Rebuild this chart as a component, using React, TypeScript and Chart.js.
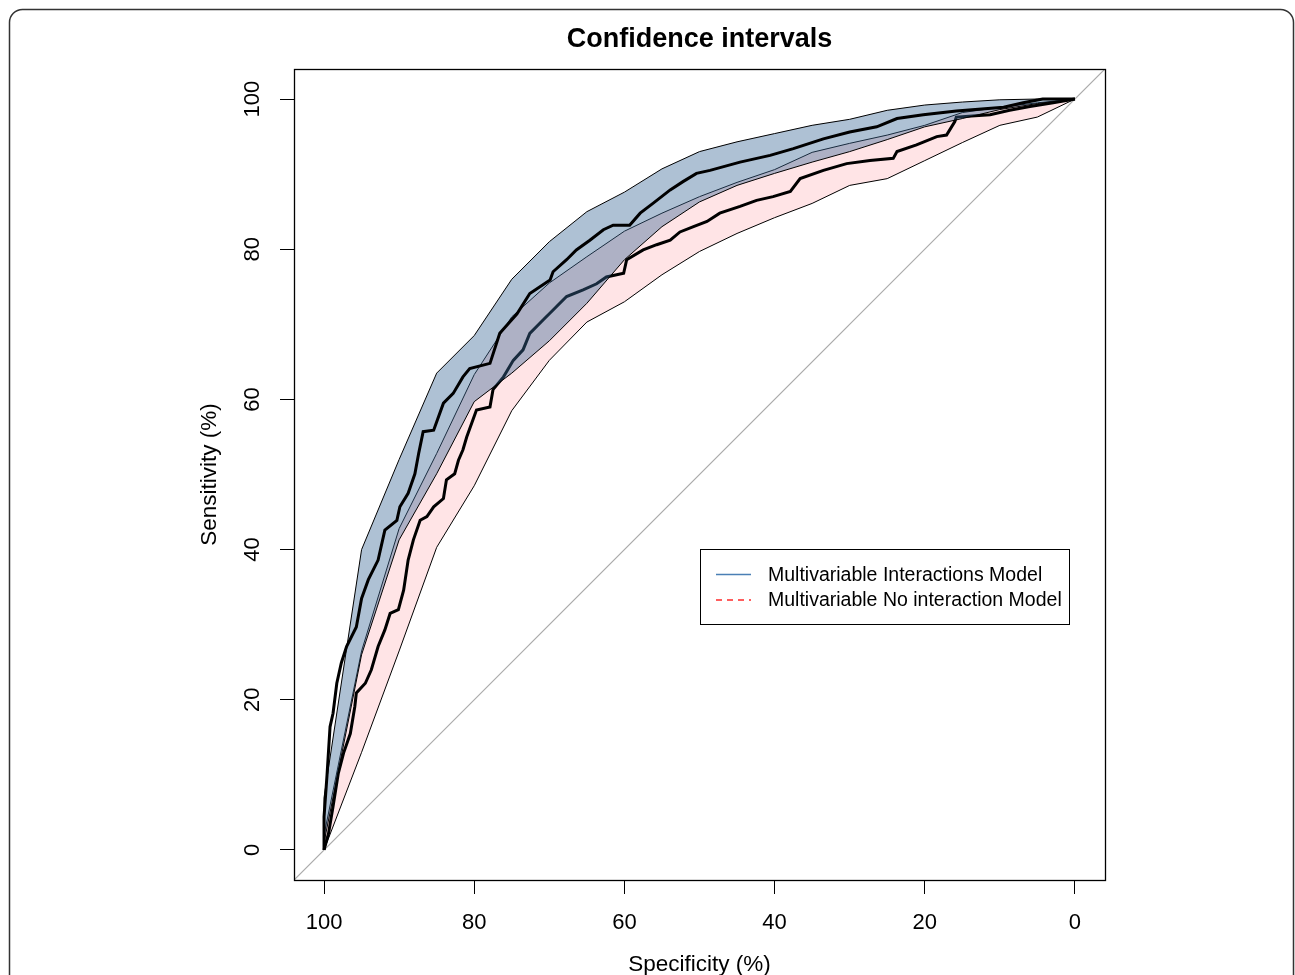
import React, { useEffect, useRef } from "react";
import { Chart, registerables } from "chart.js";

Chart.register(...registerables);

// ---------- data ----------
const titleText = "Confidence intervals";
const xTitle = "Specificity (%)";
const yTitle = "Sensitivity (%)";
const tickValues = [0, 20, 40, 60, 80, 100];
const tickLabels = ["0", "20", "40", "60", "80", "100"];
const legendLabels = ["Multivariable Interactions Model", "Multivariable No interaction Model"];

// confidence band specificities
const ciSpec = [100, 95, 90, 85, 80, 75, 70, 65, 60, 55, 50, 45, 40, 35, 30, 25, 20, 15, 10, 5, 0];
const blueUpper = [7, 40, 52, 63.5, 68.5, 76, 81, 85, 87.6, 90.7, 93, 94.3, 95.4, 96.5, 97.3, 98.5, 99.2, 99.6, 99.9, 100, 100];
const blueLower = [1, 26, 41.3, 50.1, 59.7, 63.5, 67.8, 72.8, 78.6, 83, 86.3, 88.5, 90.1, 91.6, 93, 94.6, 96.3, 97.4, 98.6, 99.4, 100];
const pinkUpper = [2, 26.5, 42.8, 52.8, 63.3, 71, 75.5, 79, 82.4, 84.8, 87, 88.9, 90.6, 92.9, 94.1, 95.2, 96.5, 98.2, 98.9, 99.5, 100];
const pinkLower = [0, 13, 26.5, 40.3, 48.5, 58.5, 65.2, 70.3, 73, 76.6, 79.7, 82.1, 84.2, 86.1, 88.5, 89.4, 91.8, 94.2, 96.5, 97.6, 100];

// ROC curve: interactions model
const rocASpec = [100, 100, 99.6, 99.2, 98.8, 98.3, 97.7, 97.0, 95.7, 95, 94.1, 92.8, 91.9, 90.3, 89.9, 88.8, 87.9, 87.4, 86.8, 85.4, 84.1, 82.8, 81.5, 80.6, 77.9, 76.6, 74.3, 72.6, 69.9, 69.5, 67.7, 66.4, 64.6, 62.8, 61.5, 59.3, 57.9, 56.2, 53.9, 52.2, 50.4, 48.6, 44.6, 40.6, 37.5, 33.5, 30.0, 26.4, 23.7, 20.2, 15.8, 9.5, 6.9, 4.3, 0];
const rocASens = [0, 4.4, 10, 16.4, 18.2, 22.2, 24.9, 27.1, 29.7, 33.5, 36, 38.6, 42.6, 43.9, 45.7, 47.5, 50.1, 52.8, 55.7, 55.9, 59.5, 60.8, 63.0, 64.1, 64.8, 68.8, 71.4, 74.1, 75.9, 77.0, 78.6, 79.9, 81.2, 82.6, 83.2, 83.2, 84.8, 86.1, 87.9, 89.0, 90.1, 90.5, 91.6, 92.5, 93.4, 94.7, 95.6, 96.3, 97.4, 97.9, 98.4, 98.9, 99.5, 100, 100];

// ROC curve: no interaction model
const rocBSpec = [100, 99.4, 98.8, 98.1, 97.4, 96.5, 95.9, 95.7, 94.5, 93.7, 92.8, 91.9, 91.2, 90.1, 89.4, 88.8, 88.1, 87.2, 86.3, 85.4, 84.1, 83.7, 82.6, 82.1, 81.5, 81.0, 79.7, 77.9, 77.5, 76.1, 74.8, 73.5, 72.6, 70.8, 69.5, 67.7, 65.5, 63.7, 62.4, 60.1, 59.7, 57.5, 55.7, 53.9, 52.6, 50.8, 49.0, 47.3, 44.6, 42.4, 40.2, 37.9, 36.6, 33.5, 30.4, 27.3, 24.2, 23.7, 21.1, 18.4, 17.1, 16.0, 15.8, 11.3, 8.7, 6.0, 2.9, 0];
const rocBSens = [0, 2.2, 5.8, 10.2, 12.9, 15.5, 19.1, 20.9, 22.2, 24.0, 27.1, 29.3, 31.5, 32.0, 34.6, 38.6, 41.3, 43.9, 44.4, 45.7, 46.8, 49.3, 50.1, 51.9, 53.3, 55.0, 58.6, 59.0, 61.3, 63.0, 65.2, 66.6, 68.8, 70.6, 71.9, 73.7, 74.6, 75.4, 76.3, 76.8, 78.6, 79.9, 80.6, 81.2, 82.3, 83.0, 83.7, 84.8, 85.7, 86.5, 87.0, 87.7, 89.4, 90.5, 91.4, 91.8, 92.1, 93.0, 93.9, 95.0, 95.2, 97.0, 97.6, 97.9, 98.5, 99.0, 99.5, 100];

const axisMin = -4;
const axisMax = 104;

const FONT = "'Liberation Sans', Arial, Helvetica, sans-serif";

function bandPolygon(upper: number[], lower: number[]) {
  const pts = ciSpec.map((s, i) => ({ x: s, y: upper[i] }));
  for (let i = ciSpec.length - 1; i >= 0; i--) pts.push({ x: ciSpec[i], y: lower[i] });
  pts.push({ x: ciSpec[0], y: upper[0] });
  return pts;
}

function curve(spec: number[], sens: number[]) {
  return spec.map((s, i) => ({ x: s, y: sens[i] }));
}

const decorPlugin = {
  id: "decor",
  afterDraw(chart: any) {
    const ctx = chart.ctx as CanvasRenderingContext2D;
    const { left, right, top, bottom } = chart.chartArea;
    const xs = chart.scales.x;
    const ys = chart.scales.y;
    ctx.save();

    // plot box
    ctx.strokeStyle = "#000";
    ctx.lineWidth = 1.3;
    ctx.strokeRect(Math.round(left) + 0.5, Math.round(top) + 0.5, Math.round(right - left), Math.round(bottom - top));

    ctx.fillStyle = "#000";
    // title
    ctx.font = `bold 27px ${FONT}`;
    ctx.textAlign = "center";
    ctx.textBaseline = "middle";
    ctx.fillText(titleText, (left + right) / 2, 40);

    // x tick labels
    ctx.font = `22px ${FONT}`;
    tickValues.forEach((v, i) => {
      ctx.fillText(tickLabels[i], xs.getPixelForValue(v), 923);
    });
    // x title
    ctx.font = `22.5px ${FONT}`;
    ctx.fillText(xTitle, (left + right) / 2, 965);

    // y tick labels (rotated)
    ctx.font = `22px ${FONT}`;
    tickValues.forEach((v, i) => {
      ctx.save();
      ctx.translate(253, ys.getPixelForValue(v));
      ctx.rotate(-Math.PI / 2);
      ctx.fillText(tickLabels[i], 0, 0);
      ctx.restore();
    });
    // y title
    ctx.font = `22.5px ${FONT}`;
    ctx.save();
    ctx.translate(210, (top + bottom) / 2);
    ctx.rotate(-Math.PI / 2);
    ctx.fillText(yTitle, 0, 0);
    ctx.restore();

    // legend
    const lx = 700.5, ly = 549.5, lw = 369, lh = 75;
    ctx.fillStyle = "#fff";
    ctx.fillRect(lx, ly, lw, lh);
    ctx.strokeStyle = "#000";
    ctx.lineWidth = 1;
    ctx.strokeRect(lx, ly, lw, lh);
    ctx.lineWidth = 1.3;
    ctx.strokeStyle = "#4a7fb5";
    ctx.beginPath();
    ctx.moveTo(716, 574.5);
    ctx.lineTo(751, 574.5);
    ctx.stroke();
    ctx.strokeStyle = "#ff2a2a";
    ctx.setLineDash([6, 5]);
    ctx.beginPath();
    ctx.moveTo(716, 600);
    ctx.lineTo(751, 600);
    ctx.stroke();
    ctx.setLineDash([]);
    ctx.fillStyle = "#000";
    ctx.font = `19.5px ${FONT}`;
    ctx.textAlign = "left";
    ctx.fillText(legendLabels[0], 768, 576);
    ctx.fillText(legendLabels[1], 768, 601);

    // outer rounded frame
    ctx.strokeStyle = "#333";
    ctx.lineWidth = 1.5;
    ctx.beginPath();
    const fx = 9.5, fy = 9.5, fw = 1284, fh = 1000, r = 13;
    ctx.moveTo(fx + r, fy);
    ctx.lineTo(fx + fw - r, fy);
    ctx.arcTo(fx + fw, fy, fx + fw, fy + r, r);
    ctx.lineTo(fx + fw, fy + fh);
    ctx.moveTo(fx, fy + fh);
    ctx.lineTo(fx, fy + r);
    ctx.arcTo(fx, fy, fx + r, fy, r);
    ctx.stroke();

    ctx.restore();
  },
};

export default function App() {
  const ref = useRef<HTMLCanvasElement | null>(null);

  useEffect(() => {
    if (!ref.current) return;
    const chart = new Chart(ref.current, {
      type: "scatter",
      data: {
        datasets: [
          {
            label: "upperCurve",
            data: curve(rocASpec, rocASens),
            showLine: true,
            borderColor: "#000",
            borderWidth: 3,
            borderJoinStyle: "miter",
            pointRadius: 0,
            fill: false,
            order: 1,
          } as any,
          {
            label: "blueBand",
            data: bandPolygon(blueUpper, blueLower),
            showLine: true,
            borderColor: "#000",
            borderWidth: 1,
            backgroundColor: "rgba(58,105,151,0.41)",
            pointRadius: 0,
            fill: "shape",
            order: 2,
          } as any,
          {
            label: "lowerCurve",
            data: curve(rocBSpec, rocBSens),
            showLine: true,
            borderColor: "#000",
            borderWidth: 3,
            borderJoinStyle: "miter",
            pointRadius: 0,
            fill: false,
            order: 3,
          } as any,
          {
            label: "pinkBand",
            data: bandPolygon(pinkUpper, pinkLower),
            showLine: true,
            borderColor: "#000",
            borderWidth: 1,
            backgroundColor: "#ffe4e6",
            pointRadius: 0,
            fill: "shape",
            order: 4,
          } as any,
          {
            label: "diagonal",
            data: [
              { x: axisMax, y: axisMin },
              { x: axisMin, y: axisMax },
            ],
            showLine: true,
            borderColor: "#aaaaaa",
            borderWidth: 1.2,
            pointRadius: 0,
            fill: false,
            order: 5,
          } as any,
        ],
      },
      options: {
        animation: false,
        responsive: false,
        devicePixelRatio: 1,
        layout: { padding: { left: 280, right: 190, top: 69, bottom: 81 } },
        plugins: { legend: { display: false }, tooltip: { enabled: false } },
        scales: {
          x: {
            type: "linear",
            reverse: true,
            min: axisMin,
            max: axisMax,
            afterBuildTicks: (s: any) => {
              s.ticks = tickValues.map((v) => ({ value: v }));
            },
            ticks: { display: false },
            border: { display: false },
            grid: { drawOnChartArea: false, drawTicks: true, tickLength: 14, color: "#000", lineWidth: 1 },
          },
          y: {
            type: "linear",
            min: axisMin,
            max: axisMax,
            afterBuildTicks: (s: any) => {
              s.ticks = tickValues.map((v) => ({ value: v }));
            },
            ticks: { display: false },
            border: { display: false },
            grid: { drawOnChartArea: false, drawTicks: true, tickLength: 14, color: "#000", lineWidth: 1 },
          },
        },
      },
      plugins: [decorPlugin],
    });
    return () => chart.destroy();
  }, []);

  return (
    <canvas
      ref={ref}
      width={1295}
      height={975}
      style={{ position: "fixed", left: 0, top: 0, width: 1295, height: 975, background: "#fff" }}
    />
  );
}
